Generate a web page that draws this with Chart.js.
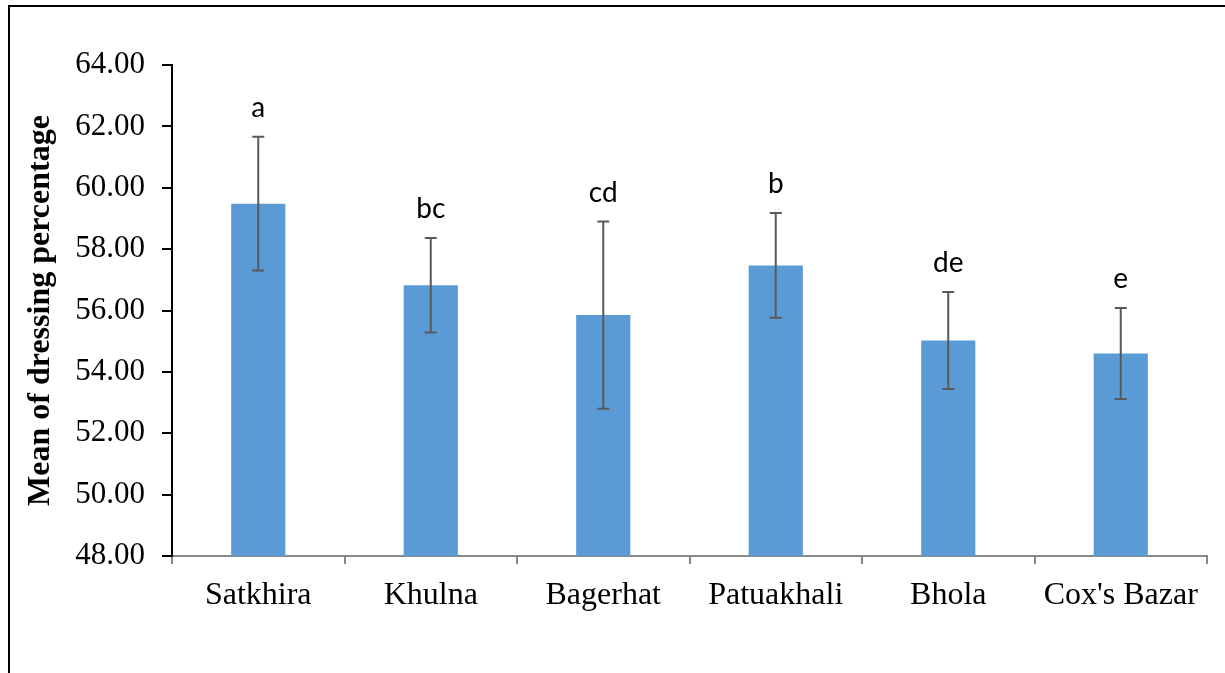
<!DOCTYPE html>
<html>
<head>
<meta charset="utf-8">
<script src="https://cdn.jsdelivr.net/npm/chart.js@4.4.1/dist/chart.umd.min.js"></script>
<style>
  html, body { margin: 0; padding: 0; background: #fff; }
  canvas { display: block; }
</style>
</head>
<body>
<canvas id="chart" width="1225" height="673"></canvas>
<script>
// Data
const districts = ['Satkhira', 'Khulna', 'Bagerhat', 'Patuakhali', 'Bhola', "Cox's Bazar"];
const dressingMean = [59.48, 56.82, 55.85, 57.47, 55.02, 54.60];
const dressingErr = [2.18, 1.54, 3.05, 1.71, 1.58, 1.48];
const groupLetters = ['a', 'bc', 'cd', 'b', 'de', 'e'];
const yTicks = [48, 50, 52, 54, 56, 58, 60, 62, 64];

// error bars + significance letters
const errorBarPlugin = {
  id: 'errorBars',
  afterDatasetsDraw(chart) {
    const ctx = chart.ctx;
    const x = chart.scales.x, y = chart.scales.y;
    ctx.save();
    ctx.strokeStyle = '#595959';
    ctx.lineWidth = 2;
    dressingMean.forEach((m, i) => {
      const cx = x.getPixelForValue(i);
      const top = y.getPixelForValue(m + dressingErr[i]);
      const bot = y.getPixelForValue(m - dressingErr[i]);
      ctx.beginPath();
      ctx.moveTo(cx, top); ctx.lineTo(cx, bot);
      ctx.moveTo(cx - 6, top); ctx.lineTo(cx + 6, top);
      ctx.moveTo(cx - 6, bot); ctx.lineTo(cx + 6, bot);
      ctx.stroke();
    });
    ctx.fillStyle = '#000';
    ctx.font = '28px Lato';
    ctx.textAlign = 'center';
    ctx.textBaseline = 'alphabetic';
    groupLetters.forEach((t, i) => {
      const cx = x.getPixelForValue(i);
      const top = y.getPixelForValue(dressingMean[i] + dressingErr[i]);
      ctx.fillText(t, cx, top - 20);
    });
    ctx.restore();
  }
};

// white page + frame lines of the original figure box
const framePlugin = {
  id: 'frame',
  beforeDraw(chart) {
    const ctx = chart.ctx;
    ctx.save();
    ctx.fillStyle = '#fff';
    ctx.fillRect(0, 0, chart.width, chart.height);
    ctx.strokeStyle = '#000';
    ctx.lineWidth = 2;
    ctx.beginPath();
    ctx.moveTo(9, chart.height);
    ctx.lineTo(9, 6);
    ctx.lineTo(chart.width, 6);
    ctx.stroke();
    ctx.restore();
  }
};

new Chart(document.getElementById('chart'), {
  type: 'bar',
  data: {
    labels: districts,
    datasets: [{
      data: dressingMean,
      backgroundColor: '#5b9bd5',
      borderWidth: 0,
      barPercentage: 0.314,
      categoryPercentage: 1,
    }]
  },
  options: {
    responsive: false,
    animation: false,
    layout: { padding: { top: 65, right: 18, left: 0, bottom: 0 } },
    plugins: { legend: { display: false }, tooltip: { enabled: false } },
    scales: {
      x: {
        grid: { drawOnChartArea: false, drawTicks: true, tickLength: 8, color: '#898989', lineWidth: 2, offset: true },
        border: { color: '#898989', width: 2 },
        ticks: {
          color: '#000',
          padding: 12,
          maxRotation: 0,
          font: { family: 'Liberation Serif', size: 32 },
        },
        afterFit: s => { s.height = 117; }
      },
      y: {
        min: 48,
        max: 64,
        afterBuildTicks: s => { s.ticks = yTicks.map(v => ({ value: v })); },
        grid: { drawOnChartArea: false, drawTicks: true, tickLength: 10, color: '#000', lineWidth: 2 },
        border: { color: '#000', width: 2 },
        ticks: {
          color: '#000',
          padding: 17,
          font: { family: 'Liberation Serif', size: 31 },
          callback: v => Number(v).toFixed(2),
        },
        title: {
          display: true,
          text: 'Mean of dressing percentage',
          color: '#000',
          padding: { top: 22, bottom: 0 },
          font: { family: 'Liberation Serif', size: 32, weight: 'bold' },
        },
        afterFit: s => { s.width = 172; }
      }
    }
  },
  plugins: [framePlugin, errorBarPlugin]
});
</script>
</body>
</html>
